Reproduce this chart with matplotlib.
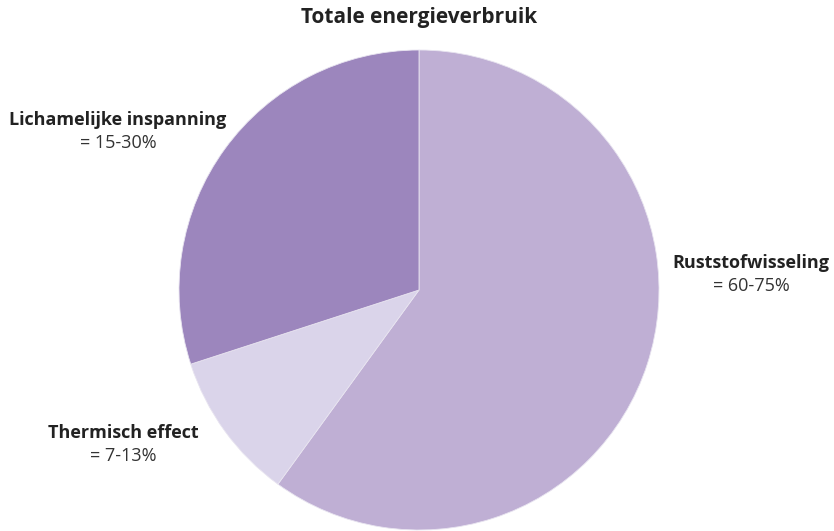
import matplotlib
matplotlib.use("Agg")
import matplotlib.pyplot as plt

plt.rcParams["font.family"] = ["Open Sans", "DejaVu Sans"]

# data
names = ["Ruststofwisseling", "Thermisch effect", "Lichamelijke inspanning"]
values = [60, 10, 30]
ranges = ["= 60-75%", "= 7-13%", "= 15-30%"]
colors = ["#bfafd4", "#dad4ea", "#9c86bd"]

W, H = 834, 531
fig = plt.figure(figsize=(W / 100, H / 100), dpi=100)

# pie: center (419, 290) px, radius 240 px
cx, cy, r = 419, 290, 240
ax = fig.add_axes([(cx - r) / W, (H - cy - r) / H, 2 * r / W, 2 * r / H])
ax.pie(values, colors=colors, startangle=90, counterclock=False,
       wedgeprops=dict(linewidth=0.6, edgecolor="#e8e4f0"))
ax.set_xlim(-1, 1)
ax.set_ylim(-1, 1)
ax.set_aspect("equal")
ax.axis("off")

fig.text(419 / W, 1 - 18 / H, "Totale energieverbruik", ha="center", va="center",
         fontsize=15, fontweight="bold", color="#222222")

# label positions in pixels (x center, y of name)
label_pos = [(751, 263), (123, 433), (118, 120)]
for name, rng, (x, y) in zip(names, ranges, label_pos):
    fig.text(x / W, 1 - y / H, name, ha="center", va="center",
             fontsize=13, fontweight="bold", color="#222222")
    fig.text(x / W, 1 - (y + 23) / H, rng, ha="center", va="center",
             fontsize=13, color="#333333")

fig.savefig("out.png", dpi=100)
